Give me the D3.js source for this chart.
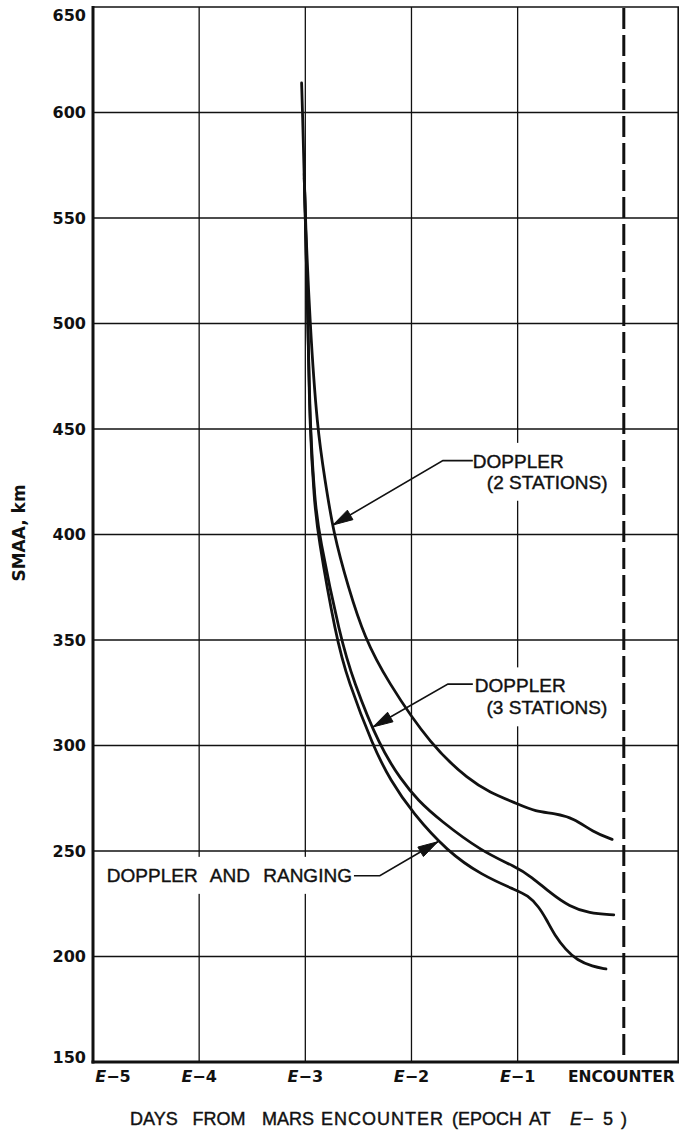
<!DOCTYPE html>
<html>
<head>
<meta charset="utf-8">
<script src="https://cdn.jsdelivr.net/npm/d3@7"></script>
<style>
  html, body { margin: 0; padding: 0; background: #fff; }
  svg { display: block; }
</style>
</head>
<body>
<svg id="chart" width="680" height="1130"></svg>
<script>
// Axis ticks (days relative to encounter, SMAA in km)
const dayTicks = [-5, -4, -3, -2, -1];
const dayTickLabels = ["5", "4", "3", "2", "1"];
const encounterDay = 0;
const encounterLabel = "ENCOUNTER";
const smaaTicks = [150, 200, 250, 300, 350, 400, 450, 500, 550, 600, 650];

// Doppler, 2 stations
const doppler2Day  = [-3.035, -3.026, -3.012, -3.0, -2.957, -2.888, -2.815, -2.737, -2.596, -2.441, -2.234, -1.81, -1.45, -1.27, -1.01, -0.83, -0.65, -0.47, -0.29, -0.11];
const doppler2Smaa = [614, 600, 572, 550, 500, 450, 426, 401, 375, 351, 331, 299.5, 283.5, 278, 272.5, 268.6, 267.9, 265.5, 259, 255.5];

// Doppler, 3 stations
const doppler3Day  = [-3.01, -3.0, -2.975, -2.955, -2.91, -2.875, -2.67, -2.55, -2.30, -2.095, -1.94, -1.735, -1.337, -1.02, -0.87, -0.69, -0.51, -0.33, -0.095];
const doppler3Smaa = [571, 550, 500, 450, 416, 400.7, 351, 331, 299.4, 283.6, 274, 264.7, 249.7, 242.6, 237.8, 230, 223.6, 220.5, 219.7];

// Doppler and ranging
const rangingDay  = [-3.01, -3.0, -2.975, -2.958, -2.915, -2.885, -2.71, -2.60, -2.36, -2.20, -1.99, -1.66, -1.34, -1.02, -0.906, -0.80, -0.726, -0.653, -0.546, -0.44, -0.294, -0.168];
const rangingSmaa = [569, 550, 500, 450, 416, 400.7, 351, 331, 299.4, 283.6, 268, 249.7, 238.6, 231.5, 229.1, 223.6, 217.3, 210.2, 203.1, 198.3, 195.2, 194.1];

const seriesNames = ["DOPPLER (2 STATIONS)", "DOPPLER (3 STATIONS)", "DOPPLER AND RANGING"];

const svg = d3.select("#chart");
const x = d3.scaleLinear().domain([-5, 0.52]).range([93, 679]);
const y = d3.scaleLinear().domain([150, 650]).range([1062, 7]);

const ink = "#111";
const tickFont = "'DejaVu Sans', sans-serif";
const textFont = "'Liberation Sans', Arial, sans-serif";

// Grid
const grid = svg.append("g").attr("stroke", ink).attr("stroke-width", 1.3);
grid.selectAll("line.v").data(dayTicks.slice(1)).join("line")
  .attr("x1", d => x(d)).attr("x2", d => x(d))
  .attr("y1", y(650)).attr("y2", y(150));
grid.selectAll("line.h").data(smaaTicks.slice(1, -1)).join("line")
  .attr("x1", x(-5)).attr("x2", x(0.52))
  .attr("y1", d => y(d)).attr("y2", d => y(d));

// Frame: heavy left/bottom axes, lighter top/right border
svg.append("line").attr("x1", x(-5)).attr("x2", x(0.52)).attr("y1", y(650)).attr("y2", y(650))
  .attr("stroke", ink).attr("stroke-width", 1.6);
svg.append("line").attr("x1", x(0.52) - 0.8).attr("x2", x(0.52) - 0.8).attr("y1", y(650)).attr("y2", y(150))
  .attr("stroke", ink).attr("stroke-width", 1.6);
svg.append("line").attr("x1", x(-5)).attr("x2", x(-5)).attr("y1", y(650) - 1).attr("y2", y(150) + 1.5)
  .attr("stroke", ink).attr("stroke-width", 3);
svg.append("line").attr("x1", x(-5) - 1.5).attr("x2", x(0.52)).attr("y1", y(150)).attr("y2", y(150))
  .attr("stroke", ink).attr("stroke-width", 3);

// Encounter marker
svg.append("line")
  .attr("x1", x(encounterDay)).attr("x2", x(encounterDay))
  .attr("y1", y(650) + 1).attr("y2", y(150) - 6)
  .attr("stroke", ink).attr("stroke-width", 3)
  .attr("stroke-dasharray", "21 6");

// Y tick labels
svg.append("g").selectAll("text").data(smaaTicks).join("text")
  .attr("x", 86)
  .attr("y", d => {
    let cy = y(d);
    if (d === 650) cy += 8;
    if (d === 150) cy -= 5;
    return cy + 5.8;
  })
  .attr("text-anchor", "end")
  .attr("font-family", tickFont).attr("font-weight", "bold").attr("font-size", 16)
  .attr("fill", ink)
  .text(d => d);

// X tick labels (E − n)
const xt = svg.append("g").selectAll("text").data(dayTicks).join("text")
  .attr("x", (d, i) => i === 0 ? x(d) + 20 : x(d))
  .attr("y", 1082)
  .attr("text-anchor", "middle")
  .attr("font-family", tickFont).attr("font-weight", "bold").attr("font-size", 16)
  .attr("fill", ink);
xt.append("tspan").attr("font-style", "italic").text("E");
xt.append("tspan").text((d, i) => "\u2212" + dayTickLabels[i]);

svg.append("text")
  .attr("x", x(encounterDay) - 2.5).attr("y", 1082)
  .attr("text-anchor", "middle")
  .attr("font-family", tickFont).attr("font-weight", "bold").attr("font-size", 15.5)
  .attr("fill", ink)
  .text(encounterLabel);

// X axis title, lettered word by word
const titleWords = [
  { t: "DAYS", x: 130 }, { t: "FROM", x: 192.5 }, { t: "MARS", x: 262 },
  { t: "ENCOUNTER", x: 321, ls: 1 }, { t: "(EPOCH", x: 452 },
  { t: "AT", x: 529 }, { t: "E", x: 570, italic: true }, { t: "\u2212", x: 583 },
  { t: "5", x: 603 }, { t: ")", x: 621 }
];
const xTitle = svg.append("text")
  .attr("y", 1125)
  .attr("font-family", textFont).attr("font-size", 18)
  .attr("fill", ink).attr("stroke", ink).attr("stroke-width", 0.4);
titleWords.forEach(w => {
  const ts = xTitle.append("tspan").attr("x", w.x).text(w.t);
  if (w.italic) ts.attr("font-style", "italic");
  ts.style("letter-spacing", (w.ls || 0) + "px");
});

svg.append("text")
  .attr("transform", "translate(25,533) rotate(-90)")
  .attr("text-anchor", "middle")
  .attr("font-family", tickFont).attr("font-weight", "bold").attr("font-size", 17)
  .attr("fill", ink)
  .text("SMAA, km");

// Curves
const line = d3.line()
  .x(d => x(d[0])).y(d => y(d[1]))
  .curve(d3.curveBasis);

const series = [
  d3.zip(doppler2Day, doppler2Smaa),
  d3.zip(doppler3Day, doppler3Smaa),
  d3.zip(rangingDay, rangingSmaa)
];
svg.append("g").selectAll("path").data(series).join("path")
  .attr("d", line)
  .attr("fill", "none").attr("stroke", ink).attr("stroke-width", 2.8)
  .attr("stroke-linecap", "round").attr("stroke-linejoin", "round");

// Callouts, positioned in data units
const callouts = [
  { lines: ["DOPPLER", "(2 STATIONS)"], anchor: "start",
    text: [[-1.422, 434.8], [-1.29, 424.9]],
    path: [[-1.422, 435], [-1.704, 435], [-2.74, 404.5]] },
  { lines: ["DOPPLER", "(3 STATIONS)"], anchor: "start",
    text: [[-1.403, 328.4], [-1.293, 318]],
    path: [[-1.422, 329.1], [-1.657, 329.1], [-2.363, 308.8]] },
  { lines: [seriesNames[2]], anchor: "end",
    text: [[-2.561, 238.6]],
    path: [[-2.542, 238.3], [-2.298, 238.3], [-1.751, 254.4]] }
];

callouts.forEach(c => {
  const g = svg.append("g");
  const bg = g.append("rect").attr("fill", "#fff");
  const tg = g.append("g");
  c.lines.forEach((s, i) => {
    tg.append("text")
      .attr("x", x(c.text[i][0]))
      .attr("y", y(c.text[i][1]) + 6.8)
      .attr("text-anchor", c.anchor)
      .attr("font-family", textFont).attr("font-size", 19)
      .attr("fill", ink).attr("stroke", ink).attr("stroke-width", 0.4)
      .style("word-spacing", c.lines.length === 1 ? "8px" : "0px")
      .text(s);
  });
  const bb = tg.node().getBBox();
  bg.attr("x", bb.x - 3).attr("y", bb.y - 8)
    .attr("width", bb.width + 6).attr("height", bb.height + 16);

  const pts = c.path.map(p => [x(p[0]), y(p[1])]);
  g.append("path")
    .attr("d", d3.line()(pts))
    .attr("fill", "none").attr("stroke", ink).attr("stroke-width", 1.6);

  // Filled arrowhead at the curve end
  const [tx, ty] = pts[pts.length - 1];
  const [px, py] = pts[pts.length - 2];
  const len = Math.hypot(tx - px, ty - py);
  const ux = (tx - px) / len, uy = (ty - py) / len;
  const L = 20, W = 5.5;
  const bx = tx - ux * L, by = ty - uy * L;
  g.append("path")
    .attr("d", `M${tx},${ty}L${bx - uy * W},${by + ux * W}L${bx + uy * W},${by - ux * W}Z`)
    .attr("fill", ink).attr("stroke", ink).attr("stroke-width", 1)
    .attr("stroke-linejoin", "round");
});
</script>
</body>
</html>
